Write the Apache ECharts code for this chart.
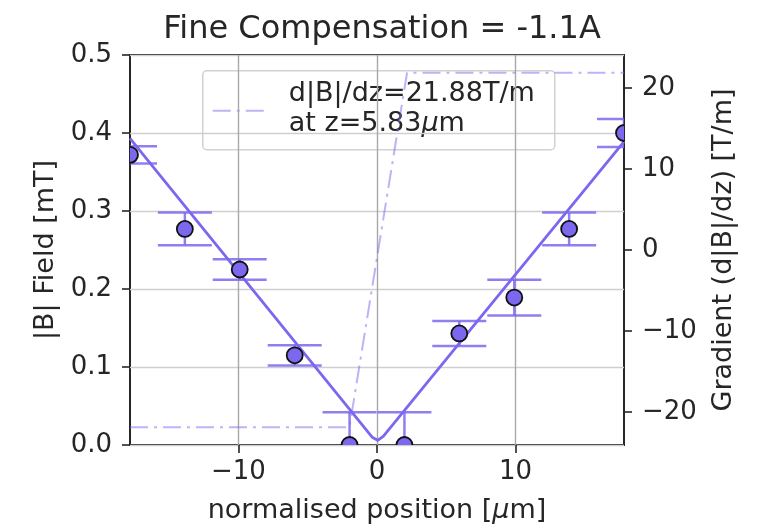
<!DOCTYPE html>
<html>
<head>
<meta charset="utf-8">
<script src="https://cdn.jsdelivr.net/npm/echarts@6/dist/echarts.min.js"></script>
<style>
  html, body { margin: 0; padding: 0; background: #ffffff; }
  #chart { width: 762px; height: 529px; }
</style>
</head>
<body>
<div id="chart"></div>
<script>
// Measured field magnitude along the normalised axis position
const positions    = [-17.83, -13.87, -9.91, -5.94, -1.98, 1.98, 5.94, 9.91, 13.87, 17.83];
const fieldValues  = [0.372, 0.277, 0.225, 0.115, 0.0, 0.0, 0.143, 0.189, 0.277, 0.400];
const fieldErrors  = [0.011, 0.021, 0.013, 0.013, 0.042, 0.042, 0.016, 0.023, 0.021, 0.018];

// V-shaped fit of |B| around the field zero
const fitPositions = [-17.83, -0.35, 0.05, 0.45, 17.83];
const fitValues    = [0.393, 0.010, 0.006, 0.011, 0.389];

// Gradient of the fit, d|B|/dz in T/m (right axis)
const gradientPositions = [-17.83, -1.99, 2.17, 17.83];
const gradientValues    = [-21.88, -21.88, 21.88, 21.88];

const xTicks        = [-10, 0, 10];
const gradientTicks = [-20, -10, 0, 10, 20];

const titleText = 'Fine Compensation = -1.1A';
const legendTop = 'd|B|/dz=21.88T/m';
const legendBottom = '{n|at z=5.83}{i|µ}{n|m}';

const FONT = 'DejaVu Sans';
const MAIN = '#7b68ee';
const ERR = 'rgba(123,104,238,0.85)';
const GRAD = 'rgba(123,104,238,0.5)';
const INK = '#262626';
const DASHDOT = [18, 6, 3, 6];
const LABEL = 27;
const TICK = 26;

const pair = (xs, ys) => xs.map((x, i) => [x, ys[i]]);
const minusSign = v => String(v).replace('-', '\u2212');
const plotClip = cs => ({ type: 'rect', shape: { x: cs.x, y: cs.y, width: cs.width, height: cs.height } });

const chart = echarts.init(document.getElementById('chart'), null, { renderer: 'canvas' });

const option = {
  backgroundColor: '#ffffff',
  animation: false,
  textStyle: { fontFamily: FONT },
  title: {
    text: titleText,
    left: 377,
    top: 9,
    textAlign: 'center',
    textStyle: { fontFamily: FONT, fontSize: 32, fontWeight: 'normal', color: INK }
  },
  grid: {
    left: 130, right: 138, top: 55, bottom: 82,
    show: true, borderColor: INK, borderWidth: 2, backgroundColor: 'transparent'
  },
  xAxis: {
    type: 'value',
    min: -17.83, max: 17.83,
    name: '{n|normalised position [}{i|µ}{n|m]}',
    nameLocation: 'middle',
    nameGap: 52,
    nameTextStyle: {
      rich: {
        n: { fontFamily: FONT, fontSize: LABEL, color: INK },
        i: { fontFamily: FONT, fontSize: LABEL, fontStyle: 'italic', color: INK }
      }
    },
    axisLine: { show: false, onZero: false },
    axisTick: { show: true, length: 8, lineStyle: { color: INK, width: 1.6 }, customValues: xTicks },
    axisLabel: {
      customValues: xTicks, margin: 14,
      fontFamily: FONT, fontSize: TICK, color: INK,
      formatter: minusSign
    },
    splitLine: { show: true, lineStyle: { color: '#a8a8a8', width: 1.4 } }
  },
  yAxis: [
    {
      type: 'value',
      min: 0, max: 0.5, interval: 0.1,
      position: 'left',
      name: '|B| Field [mT]',
      nameLocation: 'middle',
      nameGap: 70,
      nameTextStyle: { fontFamily: FONT, fontSize: LABEL, color: INK },
      axisLine: { show: false, onZero: false },
      axisTick: { show: true, length: 8, lineStyle: { color: INK, width: 1.6 } },
      axisLabel: {
        margin: 18, fontFamily: FONT, fontSize: TICK, color: INK,
        formatter: v => v.toFixed(1)
      },
      splitLine: { show: true, lineStyle: { color: '#cfcfcf', width: 1.4 } }
    },
    {
      type: 'value',
      min: -24.07, max: 24.07,
      position: 'right',
      name: 'Gradient (d|B|/dz) [T/m]',
      nameLocation: 'middle',
      nameGap: 86,
      nameRotate: 90,
      nameTextStyle: { fontFamily: FONT, fontSize: LABEL, color: INK },
      axisLine: { show: false, onZero: false },
      axisTick: { show: true, length: 8, lineStyle: { color: INK, width: 1.6 }, customValues: gradientTicks },
      axisLabel: {
        customValues: gradientTicks, margin: 18,
        fontFamily: FONT, fontSize: TICK, color: INK,
        formatter: minusSign
      },
      splitLine: { show: false }
    }
  ],
  series: [
    {
      name: 'gradient',
      type: 'line',
      yAxisIndex: 1,
      data: pair(gradientPositions, gradientValues),
      showSymbol: false,
      symbol: 'none',
      clip: true,
      z: 1,
      lineStyle: { color: GRAD, width: 2, type: DASHDOT }
    },
    {
      name: 'errors',
      type: 'custom',
      yAxisIndex: 0,
      data: positions.map((x, i) => [x, fieldValues[i], fieldErrors[i]]),
      z: 2,
      renderItem: (params, api) => {
        const x = api.value(0), y = api.value(1), e = api.value(2);
        const hi = api.coord([x, y + e]);
        const lo = api.coord([x, y - e]);
        const half = 27;
        const style = { stroke: ERR, lineWidth: 2.5, fill: null };
        return {
          type: 'group',
          clipPath: plotClip(params.coordSys),
          children: [
            { type: 'line', shape: { x1: hi[0], y1: hi[1], x2: lo[0], y2: lo[1] }, style },
            { type: 'line', shape: { x1: hi[0] - half, y1: hi[1], x2: hi[0] + half, y2: hi[1] }, style },
            { type: 'line', shape: { x1: lo[0] - half, y1: lo[1], x2: lo[0] + half, y2: lo[1] }, style }
          ]
        };
      }
    },
    {
      name: 'fit',
      type: 'line',
      yAxisIndex: 0,
      data: pair(fitPositions, fitValues),
      showSymbol: false,
      symbol: 'none',
      z: 3,
      lineStyle: { color: MAIN, width: 2.8, join: 'round' }
    },
    {
      name: 'field',
      type: 'custom',
      yAxisIndex: 0,
      data: pair(positions, fieldValues),
      z: 4,
      renderItem: (params, api) => {
        const p = api.coord([api.value(0), api.value(1)]);
        return {
          type: 'group',
          clipPath: plotClip(params.coordSys),
          children: [{
            type: 'circle',
            shape: { cx: p[0], cy: p[1], r: 8 },
            style: { fill: MAIN, stroke: '#111111', lineWidth: 1.8 }
          }]
        };
      }
    }
  ],
  graphic: [
    {
      type: 'group',
      left: 202,
      top: 70,
      z: 100,
      children: [
        {
          type: 'rect',
          shape: { x: 0, y: 0, width: 352, height: 79, r: 4 },
          style: { fill: 'rgba(255,255,255,0.8)', stroke: '#d2d2d2', lineWidth: 1.5 }
        },
        {
          type: 'line',
          shape: { x1: 10, y1: 40, x2: 65, y2: 40 },
          style: { stroke: GRAD, lineWidth: 2, lineDash: DASHDOT }
        },
        {
          type: 'text',
          x: 86, y: 23,
          style: {
            text: legendTop, fontFamily: FONT, fontSize: LABEL, fill: INK,
            verticalAlign: 'middle', align: 'left'
          }
        },
        {
          type: 'text',
          x: 86, y: 53,
          style: {
            text: legendBottom, verticalAlign: 'middle', align: 'left',
            rich: {
              n: { fontFamily: FONT, fontSize: LABEL, fill: INK, color: INK },
              i: { fontFamily: FONT, fontSize: LABEL, fontStyle: 'italic', fill: INK, color: INK }
            }
          }
        }
      ]
    }
  ]
};

chart.setOption(option);
</script>
</body>
</html>
